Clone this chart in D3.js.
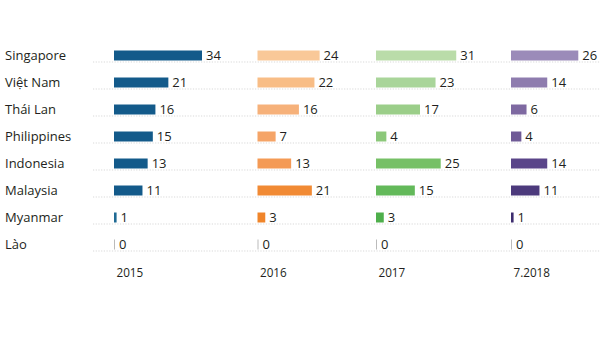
<!DOCTYPE html>
<html><head><meta charset="utf-8">
<script src="https://cdn.jsdelivr.net/npm/d3@7"></script>
<style>body{margin:0;background:#fff}svg{display:block}text{font-family:"Open Sans",sans-serif}</style>
</head><body><svg width="600" height="357"></svg>
<script>
const countries = ["Singapore","Việt Nam","Thái Lan","Philippines","Indonesia","Malaysia","Myanmar","Lào"];
const years = ["2015","2016","2017","7.2018"];
const v2015 = [34,21,16,15,13,11,1,0];
const v2016 = [24,22,16,7,13,21,3,0];
const v2017 = [31,23,17,4,25,15,3,0];
const v2018 = [26,14,6,4,14,11,1,0];
const colors2015 = ["#135a8a","#135a8a","#135a8a","#135a8a","#135a8a","#135a8a","#1f6a94","#bbbbbb"];
const colors2016 = ["#f9c898","#f8bd86","#f6b17a","#f5a467","#f49a55","#f18a34","#f0852a","#bbbbbb"];
const colors2017 = ["#badca9","#a9d59a","#9bce89","#8cc87a","#76c066","#63b95a","#4eaf4b","#bbbbbb"];
const colors2018 = ["#9b8bb9","#8e7cae","#7e69a1","#6f5a96","#5a4589","#4c3a7c","#3d2d6f","#bbbbbb"];
const series = [v2015, v2016, v2017, v2018];
const palette = [colors2015, colors2016, colors2017, colors2018];

const svg = d3.select("svg");
const y = d3.scaleBand().domain(countries).range([42, 258]).paddingInner(0.63).paddingOuter(0.315);
const colStart = d3.scaleOrdinal().domain(years).range([114, 257.5, 376, 511]);
const x = d3.scaleLinear().domain([0, 34]).range([0, 88]);

// dotted gridlines
svg.append("g").selectAll("line").data(countries).join("line")
  .attr("x1", 93).attr("x2", 600)
  .attr("y1", d => y(d) + y.bandwidth() + 1.5).attr("y2", d => y(d) + y.bandwidth() + 1.5)
  .attr("stroke", "#cfcfcf").attr("stroke-width", 0.8).attr("stroke-dasharray", "1.2,1.5");

// country labels
svg.append("g").selectAll("text").data(countries).join("text")
  .attr("x", 5).attr("y", d => y(d) + y.bandwidth() / 2).attr("dy", "0.36em")
  .attr("font-size", 13).attr("fill", "#231f20").text(d => d);

years.forEach((yr, i) => {
  const g = svg.append("g").attr("transform", `translate(${colStart(yr)},0)`);
  const data = countries.map((c, j) => ({c, v: series[i][j], col: palette[i][j]}));
  g.selectAll("rect").data(data).join("rect")
    .attr("x", 0).attr("y", d => y(d.c))
    .attr("width", d => d.v === 0 ? 1 : x(d.v))
    .attr("height", y.bandwidth())
    .attr("fill", d => d.col);
  g.selectAll("text.v").data(data).join("text").attr("class", "v")
    .attr("x", d => (d.v === 0 ? 1 : x(d.v)) + 4)
    .attr("y", d => y(d.c) + y.bandwidth() / 2).attr("dy", "0.38em")
    .attr("font-size", 13).attr("fill", "#231f20").text(d => d.v);
  g.append("text").attr("x", 2.5).attr("y", 277)
    .attr("font-size", 11.7).attr("fill", "#231f20").text(yr);
});
</script></body></html>
